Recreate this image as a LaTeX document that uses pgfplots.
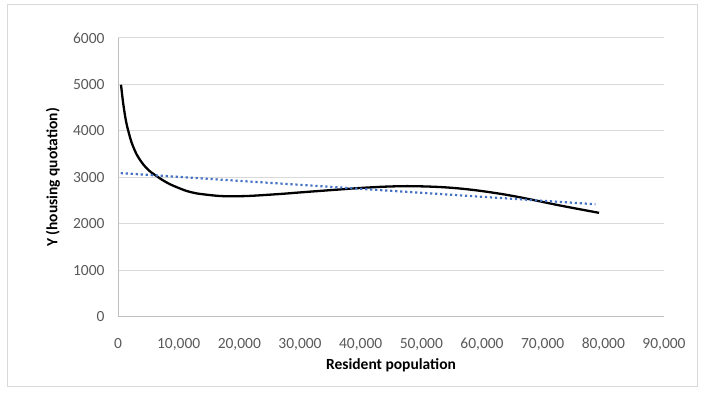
\documentclass[border=0pt]{standalone}
\usepackage{pgfplots}
\pgfplotsset{compat=1.18}
\usepackage{fontspec}
\setmainfont{Carlito}
\definecolor{gridc}{HTML}{D9D9D9}
\definecolor{axc}{HTML}{BFBFBF}
\definecolor{tickc}{HTML}{595959}
\definecolor{trendc}{HTML}{4472C4}
\begin{document}
\begin{tikzpicture}[x=1pt,y=1pt]
\path (0,0) rectangle (703,393);
\draw[gridc, line width=1pt] (7.5,7) rectangle (697,388);
\begin{axis}[
  at={(118pt,76pt)}, anchor=south west,
  scale only axis, width=546pt, height=279pt,
  xmin=0, xmax=90000, ymin=0, ymax=6000,
  xtick={0,10000,...,90000}, ytick={0,1000,...,6000},
  scaled x ticks=false, scaled y ticks=false,
  axis x line*=bottom, axis y line*=left,
  axis line style={axc, line width=1pt, -},
  major tick length=0pt,
  ymajorgrids, grid style={gridc, line width=1pt},
  font=\fontsize{15.5}{18}\selectfont,
  tick label style={tickc},
  /pgf/number format/assume math mode=true,
  xticklabel style={anchor=center, yshift=-27pt, /pgf/number format/1000 sep={,}},
  yticklabel style={anchor=east, xshift=-10pt, /pgf/number format/1000 sep={}},
  xlabel={\textbf{Resident population}},
  ylabel={\textbf{Y (housing quotation)}},
  xlabel style={at={(axis description cs:0.5,-0.172)}, anchor=center},
  ylabel style={at={(axis description cs:-0.119,0.5)}, anchor=center, rotate=0},
  clip=false,
]
\addplot[black, line width=2.3pt, smooth, tension=0.5] coordinates {
(495,4995)(880,4570)(1320,4210)(1700,4000)(2250,3750)(3080,3495)(4170,3280)
(5200,3140)(6370,3030)(7400,2940)(8570,2855)(9900,2780)(11320,2710)(12900,2660)
(14620,2630)(16500,2605)(18500,2595)(21500,2603)(24500,2626)(27500,2653)
(30000,2679)(35000,2728)(40000,2775)(44000,2803)(47600,2814)(51000,2806)
(54000,2788)(57000,2755)(60000,2708)(63000,2650)(65200,2600)(67000,2555)
(69000,2502)(72400,2410)(76000,2320)(79300,2240)};
\addplot[trendc, line width=2.2pt, dash pattern=on 2.2pt off 2.8pt] coordinates {
(450,3095)(78700,2425)};
\end{axis}
\end{tikzpicture}
\end{document}
